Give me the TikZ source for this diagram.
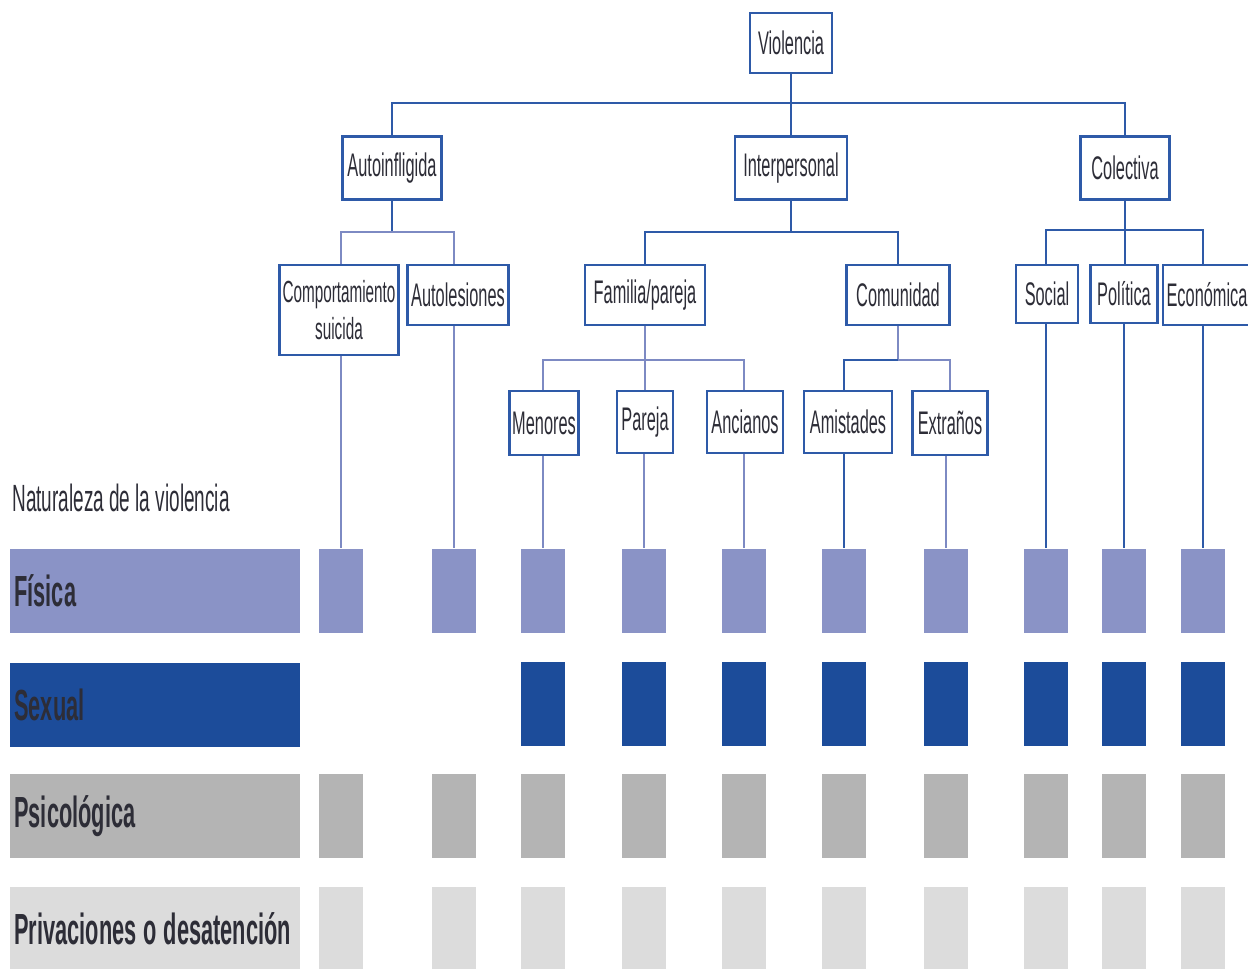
\documentclass[tikz,border=0pt]{standalone}
\usepackage{fontspec}
\setmainfont[FakeStretch=0.5]{Liberation Sans}
\definecolor{fisica}{RGB}{138,147,198}
\definecolor{sexual}{RGB}{28,76,154}
\definecolor{psico}{RGB}{180,180,180}
\definecolor{priva}{RGB}{220,220,220}
\definecolor{azul}{RGB}{46,90,168}
\definecolor{lila}{RGB}{125,138,195}
\definecolor{texto}{RGB}{45,45,55}
\begin{document}
\begin{tikzpicture}[x=0.02cm, y=-0.02cm,
  caja/.style={draw=azul, line width=1.2pt, fill=white, text=texto, inner sep=0pt, align=center, minimum height=1.2cm, font=\fontsize{18.6pt}{19pt}\selectfont},
  cuadro/.style={inner sep=0pt, minimum width=0.88cm, minimum height=1.7cm},
  barra/.style={inner xsep=0.08cm, inner ysep=0pt, minimum height=1.7cm, text width=5.64cm, align=left, text=texto, font=\fontsize{24.8pt}{26pt}\selectfont\bfseries},
  rama/.style={azul, line width=1.2pt},
  hoja/.style={lila, line width=1.2pt}]
\useasboundingbox (0,0) rectangle (1248,969);
\node[caja, minimum width=1.64cm] (vio) at (791,43) {Violencia};
\node[caja, minimum width=1.98cm, minimum height=1.26cm] (auto) at (392,168) {Autoinfligida};
\node[caja, minimum width=2.24cm, minimum height=1.26cm] (inter) at (791,168) {Interpersonal};
\node[caja, minimum width=1.78cm, minimum height=1.26cm] (col) at (1125,168) {Colectiva};
\node[caja, minimum width=2.38cm, minimum height=1.8cm, font=\fontsize{17.4pt}{21.5pt}\selectfont] (cs) at (339,310) {Comportamiento\\suicida};
\node[caja, minimum width=2.02cm] (al) at (458,295) {Autolesiones};
\node[caja, minimum width=2.4cm] (fam) at (645,295) {Familia/pareja};
\node[caja, minimum width=2.06cm] (com) at (898,295) {Comunidad};
\node[caja, minimum width=1.24cm, minimum height=1.16cm] (soc) at (1047,294) {Social};
\node[caja, minimum width=1.34cm, minimum height=1.16cm] (pol) at (1124,294) {Política};
\node[caja, minimum width=1.76cm] (eco) at (1207,295) {Económica};
\node[caja, minimum width=1.38cm, minimum height=1.28cm] (men) at (544,423) {Menores};
\node[caja, minimum width=1.12cm, minimum height=1.24cm] (par) at (645,422) {Pareja};
\node[caja, minimum width=1.52cm, minimum height=1.24cm] (anc) at (745,422) {Ancianos};
\node[caja, minimum width=1.76cm, minimum height=1.24cm] (ami) at (848,422) {Amistades};
\node[caja, minimum width=1.5cm, minimum height=1.28cm] (ext) at (950,423) {Extraños};
\node[anchor=base west, text=texto, inner sep=0pt, font=\fontsize{21.6pt}{22pt}\selectfont] (nat) at (12,512) {Naturaleza de la violencia};
\node[barra, fill=fisica, anchor=west] (lf) at (10,591) {Física};
\node[barra, fill=sexual, anchor=west] (ls) at (10,705) {Sexual};
\node[barra, fill=psico, anchor=west] (lp) at (10,816) {Psicológica};
\node[barra, fill=priva, anchor=west] (ld) at (10,929) {Privaciones\hspace{0.16em}o\hspace{0.16em}desatención};
\foreach \x [count=\i] in {341,454,543,644,744,844,946,1046,1124,1203} {
  \node[cuadro, fill=fisica] (f\i) at (\x,591) {};
  \node[cuadro, fill=psico] (p\i) at (\x,816) {};
  \node[cuadro, fill=priva] (d\i) at (\x,929) {};
}
\foreach \x [count=\i from 3] in {543,644,744,844,946,1046,1124,1203}
  \node[cuadro, fill=sexual] (s\i) at (\x,704) {};
\coordinate (r0) at (791,103);
\coordinate (r1) at (392,232);
\coordinate (r2) at (791,232);
\coordinate (r3) at (645,360);
\coordinate (r4) at (898,360);
\coordinate (r5) at (1125,230);
\draw[rama] (vio.south) -- (inter.north);
\draw[rama] (auto.north) |- (r0) -| (col.north);
\draw[rama] (auto.south) -- (r1);
\draw[hoja] (f1.north |- cs.north) |- (r1) -| (f2.north |- al.north);
\draw[rama] (inter.south) -- (r2);
\draw[rama] (fam.north) |- (r2) -| (com.north);
\draw[hoja] (fam.south) -- (par.north);
\draw[hoja] (f3.north |- men.north) |- (r3) -| (f5.north |- anc.north);
\draw[hoja] (com.south) -- (r4);
\draw[rama] (f6.north |- ami.north) |- (r4);
\draw[hoja] (r4) -| (ext.north);
\draw[rama] (col.south) -- (r5);
\draw[rama] (f8.north |- soc.north) |- (r5) -| (f10.north |- eco.north);
\draw[rama] (r5) -- (r5 |- pol.north);
\foreach \n/\i in {cs/1,al/2,men/3,par/4,anc/5,ext/7}
  \draw[hoja] (f\i.north |- \n.south) -- (f\i.north);
\foreach \n/\i in {ami/6,soc/8,pol/9,eco/10}
  \draw[rama] (f\i.north |- \n.south) -- (f\i.north);
\end{tikzpicture}
\end{document}
